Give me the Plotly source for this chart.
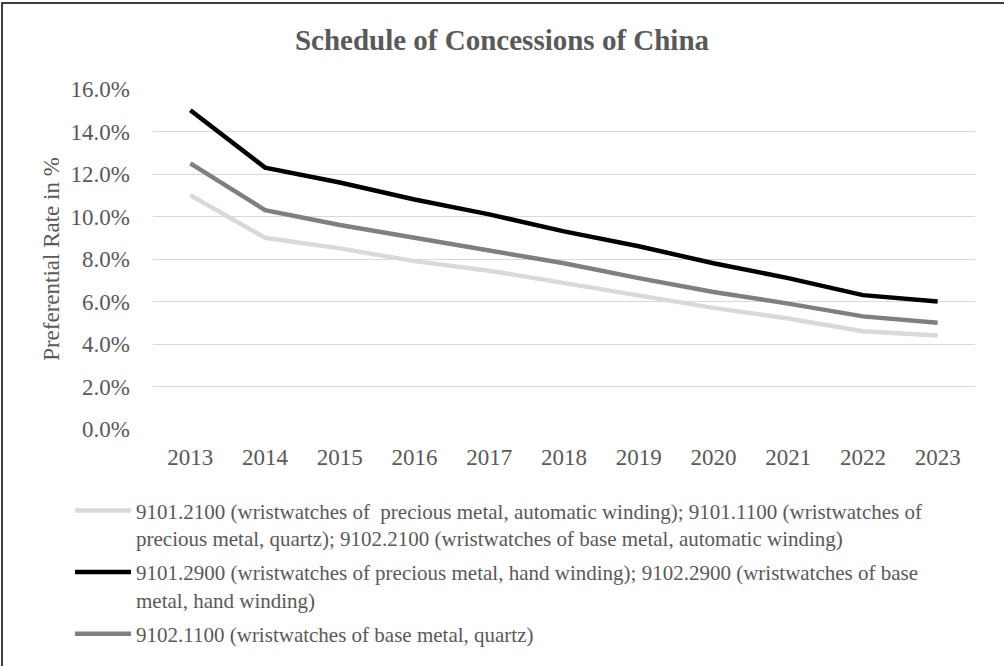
import plotly.graph_objects as go

years = ["2013", "2014", "2015", "2016", "2017", "2018", "2019", "2020", "2021", "2022", "2023"]
light_vals = [11.0, 9.0, 8.5, 7.9, 7.45, 6.85, 6.3, 5.7, 5.2, 4.6, 4.4]
black_vals = [15.0, 12.3, 11.6, 10.8, 10.1, 9.3, 8.6, 7.8, 7.1, 6.3, 6.0]
gray_vals = [12.5, 10.3, 9.6, 9.0, 8.4, 7.8, 7.1, 6.45, 5.9, 5.3, 5.0]
y_ticks = [0, 2, 4, 6, 8, 10, 12, 14, 16]
y_tick_text = ["0.0%", "2.0%", "4.0%", "6.0%", "8.0%", "10.0%", "12.0%", "14.0%", "16.0%"]

names = [
    "9101.2100 (wristwatches of  precious metal, automatic winding); 9101.1100 (wristwatches of<br>precious metal, quartz); 9102.2100 (wristwatches of base metal, automatic winding)",
    "9101.2900 (wristwatches of precious metal, hand winding); 9102.2900 (wristwatches of base<br>metal, hand winding)",
    "9102.1100 (wristwatches of base metal, quartz)",
]
colors = ["#d9d9d9", "#000000", "#7f7f7f"]
series = [light_vals, black_vals, gray_vals]

W, H = 1004, 666
L, R, T, B = 153, 29, 89, 233
pw, ph = W - L - R, H - T - B

fig = go.Figure()
for i, (nm, col, vals) in enumerate(zip(names, colors, series)):
    fig.add_trace(go.Scatter(x=years, y=vals, mode="lines", name=nm,
                             line=dict(color=col, width=4.5), legendgroup=str(i)))

fig.update_layout(
    width=W, height=H,
    margin=dict(l=L, r=R, t=T, b=B),
    paper_bgcolor="white", plot_bgcolor="white",
    font=dict(family="Liberation Serif", color="#595959"),
    title=dict(text="<b>Schedule of Concessions of China</b>", x=502 / W, xanchor="center",
               y=1 - 40 / H, yanchor="middle", font=dict(size=29, color="#595959")),
    xaxis=dict(range=[-0.5, 10.5], showgrid=False, showline=False, ticks="",
               tickfont=dict(size=23, color="#595959"), ticklabelstandoff=12),
    yaxis=dict(range=[0, 16], tickvals=y_ticks, ticktext=y_tick_text, showgrid=True,
               gridcolor="#d9d9d9", gridwidth=1.3, zeroline=False, showline=False,
               tickfont=dict(size=23, color="#595959"), ticklabelstandoff=22,
               title=dict(text="Preferential Rate in %", font=dict(size=23, color="#595959"), standoff=4)),
    legend=dict(orientation="v", x=(70 - L) / pw, xanchor="left", y=-(495 - (T + ph)) / ph, yanchor="top",
                font=dict(size=21, color="#595959"), valign="top", tracegroupgap=4,
                bgcolor="rgba(0,0,0,0)", itemwidth=56),
    shapes=[dict(type="rect", xref="paper", yref="paper",
                 x0=-(L - 2) / pw, x1=(W + 10 - L) / pw, y0=-(B + 10) / ph, y1=1 + (T - 2) / ph,
                 line=dict(color="black", width=1.5), fillcolor="rgba(0,0,0,0)", layer="below")],
)

fig.write_html("out.html")
